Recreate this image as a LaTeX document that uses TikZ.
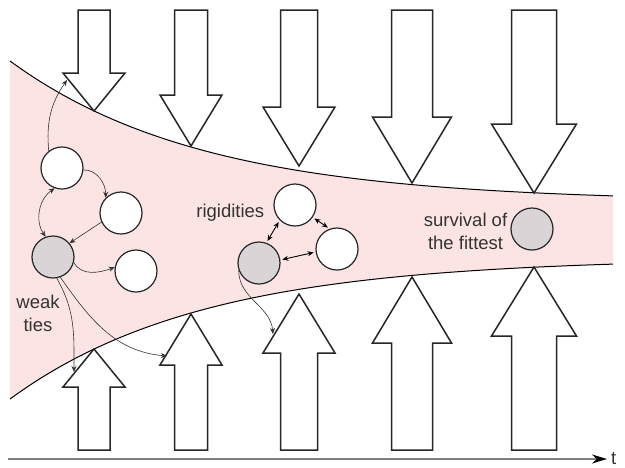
\documentclass[tikz,border=0pt]{standalone}
\usepackage{fontspec}
\setmainfont{Liberation Sans}
\usetikzlibrary{positioning,arrows.meta}

\definecolor{funnelpink}{RGB}{252,228,228}
\definecolor{fitgray}{RGB}{218,212,214}

\begin{document}
\begin{tikzpicture}[x=1pt,y=-1pt,node distance=4pt,
    font=\fontsize{18.5}{23}\selectfont,
    >={Stealth[length=6pt,width=5pt]},
    agent/.style={circle,draw=black!85,line width=1.2pt,fill=white,minimum size=42pt,inner sep=0pt},
    fitagent/.style={agent,fill=fitgray},
    txt/.style={text=black!80,align=center,inner sep=0pt},
    force/.style={draw=black!85,line width=1.5pt,fill=white},
    link/.style={->,line width=0.6pt,draw=black!80},
    rigid/.style={<->,line width=0.9pt,shorten <=2pt,shorten >=2pt}]
  \useasboundingbox (0,0) rectangle (625,467);

  % the funnel
  \fill[funnelpink] plot[domain=10:613,samples=100] (\x,{230-28-141*exp(-0.0052*(\x-10))})
    -- plot[domain=613:10,samples=100] (\x,{230+28+141*exp(-0.0052*(\x-10))}) -- cycle;
  \draw[line width=1pt] plot[domain=10:613,samples=100] (\x,{230-28-141*exp(-0.0052*(\x-10))});
  \draw[line width=1pt] plot[domain=10:613,samples=100] (\x,{230+28+141*exp(-0.0052*(\x-10))});

  % pressure from above and below
  \foreach \i/\cx/\sw/\hw/\hb/\tp in {1/94/16/31/157/119,2/191/16.5/31/135/84,
      3/299/18.5/36/123/64,4/412/20.5/39.5/113/47,5/534/22.5/42.5/106/37} {
    \draw[force] (\cx-\sw,10) -- (\cx-\sw,230-\hb) -- (\cx-\hw,230-\hb) -- (\cx,230-\tp)
      -- (\cx+\hw,230-\hb) -- (\cx+\sw,230-\hb) -- (\cx+\sw,10) -- cycle;
    \draw[force] (\cx-\sw,450) -- (\cx-\sw,230+\hb) -- (\cx-\hw,230+\hb) -- (\cx,230+\tp)
      -- (\cx+\hw,230+\hb) -- (\cx+\sw,230+\hb) -- (\cx+\sw,450) -- cycle;
  }

  % agents
  \node[agent] (a1) at (62,168) {};
  \node[agent] (a2) at (121,213) {};
  \node[fitagent] (a3) at (53,257) {};
  \node[agent] (a4) at (136,271) {};
  \node[agent] (r1) at (295,205) {};
  \node[agent] (r2) at (337,249) {};
  \node[fitagent] (r3) at (259,263) {};
  \node[fitagent] (best) at (532,229) {};

  \node[txt] (weak) [below=16pt of a3, xshift=-15pt] {weak\\ties};
  \node[txt] (rigid) [left=9pt of r1, yshift=-8pt] {rigidities};
  \node[txt] (fittest) [left=3pt of best, yshift=-2pt] {survival of\\the fittest};

  % ends on the arrows
  \coordinate (k1) at (67,80);
  \coordinate (w1) at (74,372);
  \coordinate (w2) at (167,356);
  \coordinate (w3) at (273,334);

  \draw[link] (a1.128) to[out=95,in=-125] (k1);
  \draw[link] (a1.-5) to[out=0,in=90] (a2.135);
  \draw[link] (a2.205) -- (a3.40);
  \draw[link,<->] (a3.110) to[bend left=45] (a1.250);
  \draw[link] (a3.-15) to[out=-60,in=200] (a4.170);
  \draw[link] (a3.-80) to[out=-60,in=90] (w1);
  \draw[link] (a3.-70) to[out=-55,in=175] (w2);
  \draw[rigid] (r1.225) -- (r3.70);
  \draw[rigid] (r1.-35) -- (r2.110);
  \draw[rigid] (r3.8) -- (r2.188);
  \draw[link] (r3.200) to[out=-90,in=95] (w3);

  % time axis
  \coordinate (t0) at (8,459);
  \coordinate (t1) at (607,459);
  \draw[line width=1.8pt,black!50,-{Stealth[length=15pt,width=9pt,black]}] (t0) -- (t1);
  \node[txt] (tlab) [right=4pt of t1] {t};
\end{tikzpicture}
\end{document}
